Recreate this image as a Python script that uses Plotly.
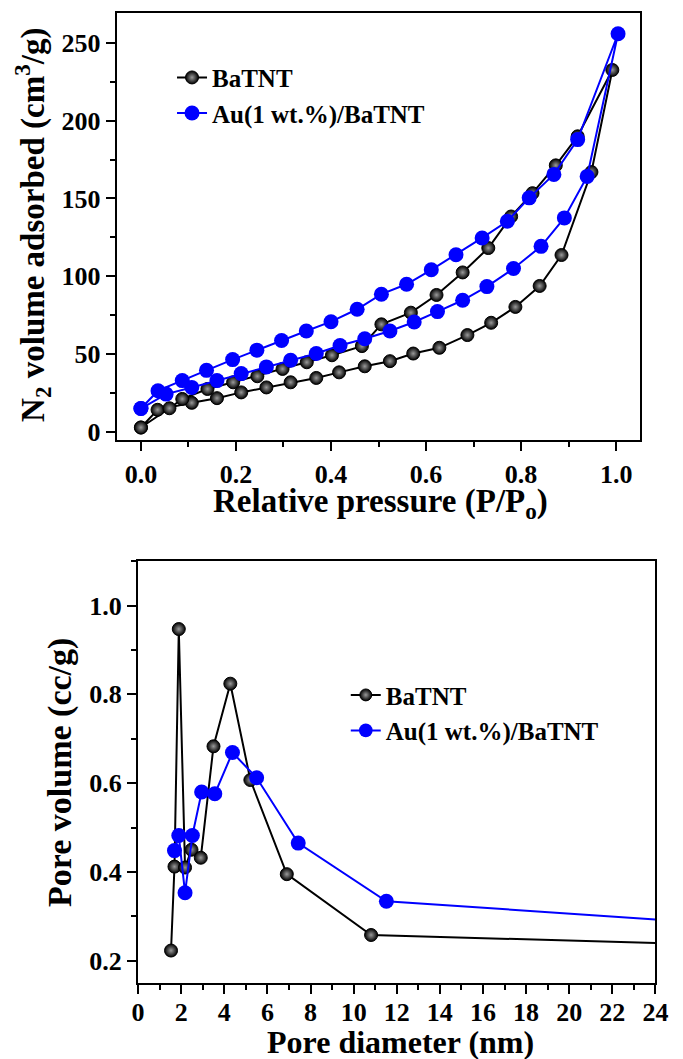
import plotly.graph_objects as go

W, H = 683, 1059
FONT = "Liberation Serif"
BLUE = "#0000FF"

# ---------------- Top panel: N2 isotherms ----------------
bat_ads_p = [0.000, 0.035, 0.107, 0.160, 0.211, 0.264, 0.315, 0.369, 0.417, 0.471,
             0.524, 0.573, 0.628, 0.687, 0.737, 0.788, 0.839, 0.885, 0.948, 0.992]
bat_ads_v = [2.6, 14.0, 18.5, 21.5, 25.2, 28.4, 31.7, 34.5, 38.1, 42.0,
             45.3, 50.2, 53.9, 62.1, 70.0, 80.2, 93.7, 113.6, 167.0, 232.7]
bat_des_p = [0.919, 0.873, 0.824, 0.779, 0.731, 0.677, 0.622, 0.568, 0.506, 0.465,
             0.402, 0.349, 0.298, 0.245, 0.194, 0.140, 0.087, 0.060, 0.000]
bat_des_v = [190.0, 171.3, 153.4, 138.4, 118.1, 102.4, 87.9, 76.5, 69.0, 55.0,
             49.1, 44.6, 40.3, 35.6, 31.7, 27.4, 21.0, 15.0, 2.6]

au_ads_p = [0.000, 0.053, 0.107, 0.160, 0.211, 0.264, 0.315, 0.369, 0.419, 0.471,
            0.524, 0.575, 0.624, 0.677, 0.728, 0.784, 0.842, 0.891, 0.939, 1.004]
au_ads_v = [14.8, 24.1, 28.4, 32.8, 37.3, 41.6, 45.9, 50.2, 55.4, 59.7,
            64.7, 70.5, 77.2, 84.5, 93.3, 104.9, 119.2, 137.5, 164.2, 256.0]
au_des_p = [0.919, 0.869, 0.817, 0.771, 0.718, 0.663, 0.611, 0.559, 0.506, 0.455,
            0.400, 0.348, 0.296, 0.244, 0.193, 0.138, 0.087, 0.036, 0.000]
au_des_v = [187.9, 165.5, 150.4, 135.3, 124.6, 113.8, 104.1, 94.8, 88.4, 78.7,
            70.7, 64.7, 58.6, 52.4, 46.3, 39.4, 32.8, 26.3, 14.8]

# ---------------- Bottom panel: pore size distribution ----------------
bat_d = [1.53, 1.69, 1.89, 2.18, 2.48, 2.91, 3.50, 4.28, 5.21, 6.90, 10.81, 24.0]
bat_pv = [0.223, 0.412, 0.947, 0.410, 0.450, 0.432, 0.683, 0.824, 0.607, 0.395, 0.258, 0.240]
au_d = [1.69, 1.89, 2.18, 2.52, 2.95, 3.56, 4.38, 5.50, 7.43, 11.52, 24.0]
au_pv = [0.448, 0.482, 0.353, 0.482, 0.580, 0.576, 0.669, 0.612, 0.465, 0.334, 0.293]

names = ["BaTNT", "Au(1 wt.%)/BaTNT"]

x_ticks_top = [0.0, 0.2, 0.4, 0.6, 0.8, 1.0]
y_ticks_top = [0, 50, 100, 150, 200, 250]
x_ticks_bot = list(range(0, 25, 2))
y_ticks_bot = [0.2, 0.4, 0.6, 0.8, 1.0]


def black_marker(n, size=13):
    return dict(color="black", size=[size] * n, opacity=1,
                line=dict(color="black", width=1),
                gradient=dict(type="radial", color="#9a9a9a"))


def blue_marker(n, size=15):
    return dict(color=BLUE, size=[size] * n, opacity=1, line=dict(color=BLUE, width=0))


fig = go.Figure()

# top
bx = bat_ads_p + bat_des_p
by = bat_ads_v + bat_des_v
fig.add_trace(go.Scatter(x=bx, y=by, mode="lines+markers", name=names[0],
                         line=dict(color="black", width=2), marker=black_marker(len(bx)),
                         xaxis="x", yaxis="y", legend="legend"))
ax = au_ads_p + au_des_p
ay = au_ads_v + au_des_v
fig.add_trace(go.Scatter(x=ax, y=ay, mode="lines+markers", name=names[1],
                         line=dict(color=BLUE, width=2), marker=blue_marker(len(ax)),
                         xaxis="x", yaxis="y", legend="legend"))

# bottom
mb = black_marker(len(bat_d))
mb["size"][-1] = 0
fig.add_trace(go.Scatter(x=bat_d, y=bat_pv, mode="lines+markers", name=names[0],
                         line=dict(color="black", width=2), marker=mb,
                         xaxis="x2", yaxis="y2", legend="legend2"))
mu = blue_marker(len(au_d))
mu["size"][-1] = 0
fig.add_trace(go.Scatter(x=au_d, y=au_pv, mode="lines+markers", name=names[1],
                         line=dict(color=BLUE, width=2), marker=mu,
                         xaxis="x2", yaxis="y2", legend="legend2"))

tickfont = dict(family=FONT, size=26, color="black", weight="bold")


def axis(domain, rng, tickvals, fmt, minor_dtick, anchor, standoff=0):
    return dict(domain=domain, range=rng, anchor=anchor, tickvals=tickvals,
                tickformat=fmt, ticks="outside", ticklen=9, tickwidth=2,
                tickcolor="black", showline=True, linewidth=2, linecolor="black",
                mirror=True, showgrid=False, zeroline=False, tickfont=tickfont,
                ticklabelstandoff=standoff,
                minor=dict(ticks="outside", ticklen=5, tickwidth=2, tickcolor="black",
                           dtick=minor_dtick, showgrid=False),
                fixedrange=True)


fig.update_layout(
    width=W, height=H,
    margin=dict(l=0, r=0, t=0, b=0),
    paper_bgcolor="white", plot_bgcolor="white",
    xaxis=axis([113 / W, 652 / W], [-0.051, 1.05], x_ticks_top, ".1f", 0.1, "y"),
    yaxis=axis([1 - 443 / H, 1 - 13 / H], [-5.75, 269.4], y_ticks_top, "d", 25, "x"),
    xaxis2=axis([135 / W, 668 / W], [0, 24], x_ticks_bot, "d", 1, "y2", standoff=-5),
    yaxis2=axis([1 - 989 / H, 1 - 564 / H], [0.149, 1.1007], y_ticks_bot, ".1f", 0.1, "x2"),
    showlegend=True,
    legend=dict(x=170 / W, y=1 - 55 / H, xanchor="left", yanchor="top",
                bgcolor="rgba(0,0,0,0)", borderwidth=0,
                font=dict(family=FONT, size=25, color="black", weight="bold")),
    legend2=dict(x=349 / W, y=1 - 676 / H, xanchor="left", yanchor="top",
                 bgcolor="rgba(0,0,0,0)", borderwidth=0,
                 font=dict(family=FONT, size=25, color="black", weight="bold")),
)

title_font = dict(family=FONT, size=33, color="black", weight="bold")
ann = [
    dict(text="N<sub>2</sub> volume adsorbed (cm<sup>3</sup>/g)", x=27 / W, y=1 - 226 / H,
         textangle=-90),
    dict(text="Relative pressure (P/P<sub>o</sub>)", x=385 / W, y=1 - 506 / H, textangle=0),
    dict(text="Pore volume (cc/g)", x=54 / W, y=1 - 777 / H, textangle=-90,
         font=dict(family=FONT, size=34, color="black", weight="bold")),
    dict(text="Pore diameter (nm)", x=405 / W, y=1 - 1048 / H, textangle=0,
         font=dict(family=FONT, size=32, color="black", weight="bold")),
]
for a in ann:
    a.setdefault("font", title_font)
    fig.add_annotation(xref="paper", yref="paper", showarrow=False, xanchor="center",
                       yanchor="middle", **a)

fig.write_html("out.html", config={"displayModeBar": False},
               post_script="document.body.style.margin='0';")
